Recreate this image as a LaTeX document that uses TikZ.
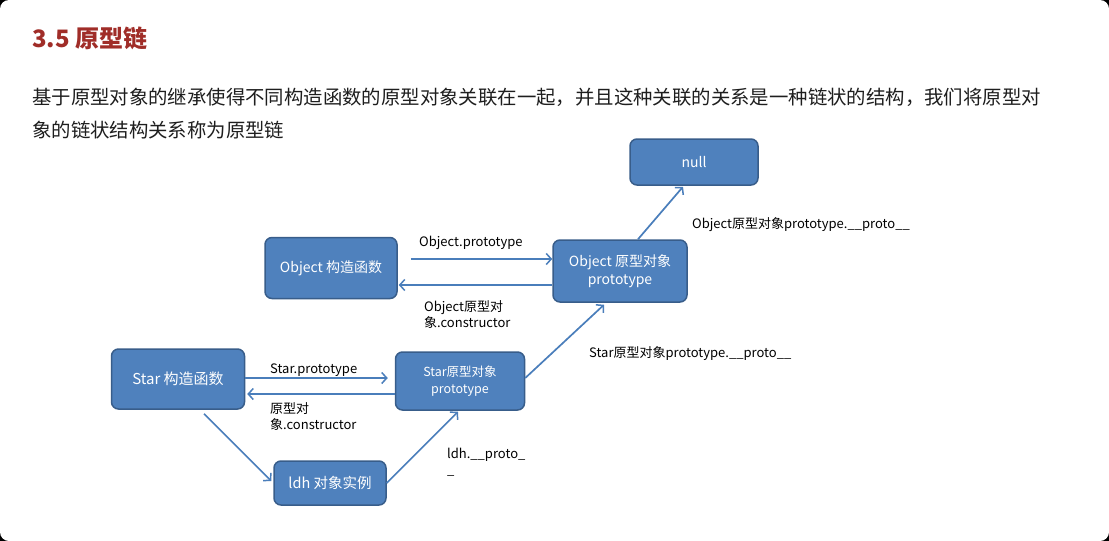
\documentclass[tikz,border=0pt]{standalone}
\usepackage{fontspec}
\setmainfont{Noto Sans CJK SC}
\usetikzlibrary{arrows.meta,calc}
\definecolor{boxfill}{RGB}{79,129,189}
\definecolor{boxline}{RGB}{56,93,138}
\definecolor{arrcol}{RGB}{74,126,187}
\definecolor{headred}{RGB}{160,45,40}
\definecolor{bodytxt}{RGB}{30,30,30}
\tikzset{
  box/.style={rectangle, rounded corners=7pt, fill=boxfill, draw=boxline, line width=1.5pt,
    text=white, align=center, inner sep=2pt},
  arr/.style={draw=arrcol, line width=1.7pt, -{Straight Barb[length=5pt,width=11pt,line width=1.5pt]}},
  lbl/.style={anchor=west, inner sep=0pt, text=black, font=\fontsize{13}{16}\selectfont, align=left},
}
\begin{document}
\begin{tikzpicture}[x=1pt,y=-1pt]
\useasboundingbox (0,0) rectangle (1109,541);
\fill[black] (0,0) rectangle (1109,541);
\fill[white, rounded corners=9pt] (0,0) rectangle (1109,541);

% heading and body text
\node[anchor=west, inner sep=0pt, text=headred, font=\fontsize{24}{27}\selectfont\bfseries] (title) at (32,38) {3.5 原型链};
\node[anchor=west, inner sep=0pt, text=bodytxt, font=\fontsize{19.4}{23}\selectfont] (line1) at (32,97) {基于原型对象的继承使得不同构造函数的原型对象关联在一起，并且这种关联的关系是一种链状的结构，我们将原型对};
\node[anchor=west, inner sep=0pt, text=bodytxt, font=\fontsize{19.4}{23}\selectfont] (line2) at (32,130) {象的链状结构关系称为原型链};

% boxes
\node[box, minimum width=128pt, minimum height=46pt, font=\fontsize{14}{17}\selectfont] (null) at (694,162) {null};
\node[box, minimum width=132pt, minimum height=61pt, font=\fontsize{14}{17}\selectfont] (oc) at (331,268) {Object 构造函数};
\node[box, minimum width=134pt, minimum height=62pt, font=\fontsize{14}{18}\selectfont] (op) at (620,271) {Object 原型对象\\prototype};
\node[box, minimum width=133pt, minimum height=60pt, font=\fontsize{15}{18}\selectfont] (sc) at (178,379) {Star 构造函数};
\node[box, minimum width=129pt, minimum height=58pt, font=\fontsize{12.5}{17}\selectfont] (sp) at (460,381) {Star原型对象\\prototype};
\node[box, minimum width=112pt, minimum height=44pt, font=\fontsize{14.5}{17}\selectfont] (ldh) at (330,483) {ldh 对象实例};

% connectors
\coordinate (a1) at ([xshift=13pt,yshift=9pt]oc.east);
\draw[arr] (a1) -- (a1 -| op.west);
\coordinate (a2) at ([yshift=-14pt]op.west);
\draw[arr] (a2) -- ([xshift=1pt]a2 -| oc.east);
\draw[arr] ([xshift=18pt]op.north) -- ([xshift=-11pt,yshift=-1pt]null.south);
\draw[arr] ([yshift=3pt]sp.east) -- ([xshift=-16pt,yshift=-2pt]op.south);
\coordinate (a3) at ([yshift=1pt]sc.east);
\draw[arr] (a3) -- ([xshift=-7pt]a3 -| sp.west);
\coordinate (a4) at ([yshift=-13pt]sp.west);
\draw[arr] (a4) -- ([xshift=2pt]a4 -| sc.east);
\draw[arr] ([xshift=26pt,yshift=-4pt]sc.south) -- ([xshift=-2pt,yshift=2pt]ldh.west);
\draw[arr] (ldh.east) -- ([xshift=-2pt,yshift=-1pt]sp.south);

% labels
\node[lbl] (l1) at (419,243) {Object.prototype};
\node[lbl] (l2) at (424,314) {Object原型对\\象.constructor};
\node[lbl] (l3) at (692,225) {Object原型对象prototype.\_\_proto\_\_};
\node[lbl] (l4) at (589,354) {Star原型对象prototype.\_\_proto\_\_};
\node[lbl] (l5) at (270,370) {Star.prototype};
\node[lbl] (l6) at (270,416) {原型对\\象.constructor};
\node[lbl] (l7) at (447,462) {ldh.\_\_proto\_\\\_};
\end{tikzpicture}
\end{document}
